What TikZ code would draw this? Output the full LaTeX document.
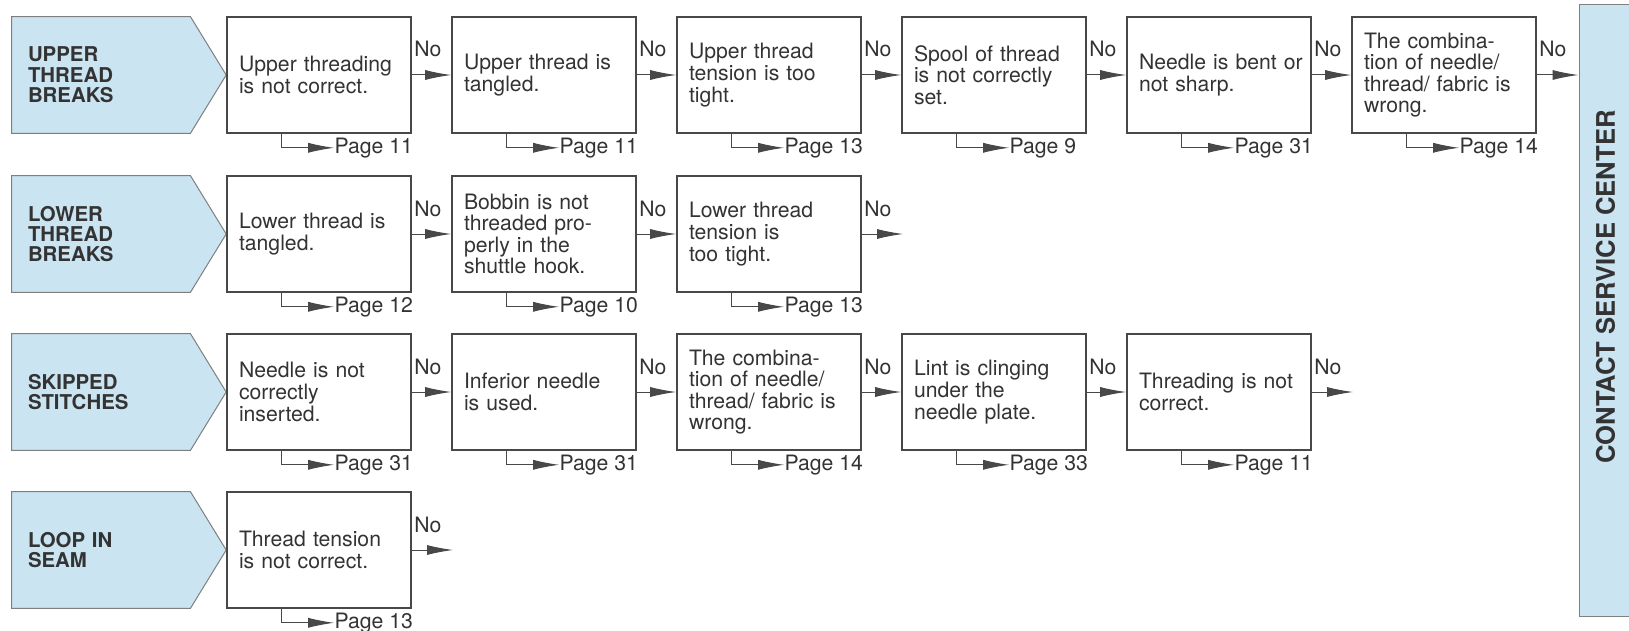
\documentclass[tikz,border=0pt]{standalone}
\usepackage{fontspec}
\setmainfont{TeX Gyre Heros}
\usetikzlibrary{arrows.meta, backgrounds}
\definecolor{catblue}{RGB}{202,228,242}
\definecolor{ink}{RGB}{51,51,51}
\definecolor{rule}{RGB}{72,72,72}

\begin{document}
\begin{tikzpicture}[
			x=0.5pt, y=-0.5pt,
			line cap=round,
			font=\fontsize{10.6}{10.8}\selectfont,
			>={Latex[length=13pt, width=5pt]},
			text=ink,
			box/.style={draw=rule, line width=0.8pt, minimum width=92pt, minimum height=58pt,
				text width=80pt, inner xsep=6pt, inner ysep=0pt, align=left},
			cat/.style={minimum width=89pt, minimum height=58pt, text width=73pt, inner xsep=8pt,
				align=left, font=\fontsize{10.2}{10.2}\selectfont\bfseries},
			catshape/.style={fill=catblue, draw=rule!70, line width=0.5pt},
			csc/.style={rotate=90, fill=catblue, draw=rule!70, line width=0.5pt, inner sep=0pt,
				minimum width=305.5pt, minimum height=26.5pt, font=\fontsize{12.8}{13}\selectfont\bfseries},
			noline/.style={->, draw=rule, line width=0.5pt},
			no/.style={pos=0, anchor=base west, inner sep=1pt, yshift=9pt},
			pgline/.style={->, draw=rule, line width=0.5pt},
			page/.style={anchor=west, inner sep=0pt},
		]
			\useasboundingbox (0,0) rectangle (1629,631);

			% upper thread breaks
			\node[cat] (c1) at (101,75) {UPPER\\THREAD\\BREAKS};
			\node[box] (b11) at (319,75) {Upper threading\\is not correct.};
			\node[box] (b12) at (544,75) {Upper thread is\\tangled.};
			\node[box] (b13) at (769,75) {Upper thread\\tension is too\\tight.};
			\node[box] (b14) at (994,75) {Spool of thread\\is not correctly\\set.};
			\node[box] (b15) at (1219,75) {\mbox{Needle is bent or}\\not sharp.};
			\node[box] (b16) at (1444,75) {The combina-\\tion of needle/\\thread/ fabric is\\wrong.};

			% lower thread breaks
			\node[cat] (c2) at (101,234) {LOWER\\THREAD\\BREAKS};
			\node[box] (b21) at (319,234) {Lower thread is\\tangled.};
			\node[box] (b22) at (544,234) {Bobbin is not\\threaded pro-\\perly in the\\shuttle hook.};
			\node[box] (b23) at (769,234) {Lower thread\\tension is\\too tight.};

			% skipped stitches
			\node[cat] (c3) at (101,392) {SKIPPED\\STITCHES};
			\node[box] (b31) at (319,392) {Needle is not\\correctly\\inserted.};
			\node[box] (b32) at (544,392) {Inferior needle\\is used.};
			\node[box] (b33) at (769,392) {The combina-\\tion of needle/\\thread/ fabric is\\wrong.};
			\node[box] (b34) at (994,392) {Lint is clinging\\under the\\needle plate.};
			\node[box] (b35) at (1219,392) {Threading is not\\correct.};

			% loop in seam
			\node[cat] (c4) at (101,550) {LOOP IN\\SEAM};
			\node[box] (b41) at (319,550) {Thread tension\\is not correct.};

			\node[csc] (csc) at (1605.5,310.5) {\hspace*{23.5pt}CONTACT SERVICE CENTER};

			\begin{scope}[on background layer]
				\draw[catshape] (c1.north west) -- (c1.north east) -- (b11.west) -- (c1.south east) -- (c1.south west) -- cycle;
				\draw[catshape] (c2.north west) -- (c2.north east) -- (b21.west) -- (c2.south east) -- (c2.south west) -- cycle;
				\draw[catshape] (c3.north west) -- (c3.north east) -- (b31.west) -- (c3.south east) -- (c3.south west) -- cycle;
				\draw[catshape] (c4.north west) -- (c4.north east) -- (b41.west) -- (c4.south east) -- (c4.south west) -- cycle;
			\end{scope}

			\coordinate (e2) at (903,234);
			\coordinate (e3) at (1353,392);
			\coordinate (e4) at (453,550);

			\draw[noline] (b11) -- node[no] {No} (b12);
			\draw[noline] (b12) -- node[no] {No} (b13);
			\draw[noline] (b13) -- node[no] {No} (b14);
			\draw[noline] (b14) -- node[no] {No} (b15);
			\draw[noline] (b15) -- node[no] {No} (b16);
			\draw[noline] (b16) -- node[no] {No} (b16 -| csc.north);

			\draw[noline] (b21) -- node[no] {No} (b22);
			\draw[noline] (b22) -- node[no] {No} (b23);
			\draw[noline] (b23) -- node[no] {No} (e2);

			\draw[noline] (b31) -- node[no] {No} (b32);
			\draw[noline] (b32) -- node[no] {No} (b33);
			\draw[noline] (b33) -- node[no] {No} (b34);
			\draw[noline] (b34) -- node[no] {No} (b35);
			\draw[noline] (b35) -- node[no] {No} (e3);

			\draw[noline] (b41) -- node[no] {No} (e4);

			% page references
			\node[page] (p11) at ([shift={(108,14)}]b11.south west) {Page 11};
			\node[page] (p12) at ([shift={(108,14)}]b12.south west) {Page 11};
			\node[page] (p13) at ([shift={(108,14)}]b13.south west) {Page 13};
			\node[page] (p14) at ([shift={(108,14)}]b14.south west) {Page 9};
			\node[page] (p15) at ([shift={(108,14)}]b15.south west) {Page 31};
			\node[page] (p16) at ([shift={(108,14)}]b16.south west) {Page 14};
			\node[page] (p21) at ([shift={(108,14)}]b21.south west) {Page 12};
			\node[page] (p22) at ([shift={(108,14)}]b22.south west) {Page 10};
			\node[page] (p23) at ([shift={(108,14)}]b23.south west) {Page 13};
			\node[page] (p31) at ([shift={(108,14)}]b31.south west) {Page 31};
			\node[page] (p32) at ([shift={(108,14)}]b32.south west) {Page 31};
			\node[page] (p33) at ([shift={(108,14)}]b33.south west) {Page 14};
			\node[page] (p34) at ([shift={(108,14)}]b34.south west) {Page 33};
			\node[page] (p35) at ([shift={(108,14)}]b35.south west) {Page 11};
			\node[page] (p41) at ([shift={(108,14)}]b41.south west) {Page 13};

			\draw[pgline] ([xshift=27.5pt]b11.south west) |- (p11.west);
			\draw[pgline] ([xshift=27.5pt]b12.south west) |- (p12.west);
			\draw[pgline] ([xshift=27.5pt]b13.south west) |- (p13.west);
			\draw[pgline] ([xshift=27.5pt]b14.south west) |- (p14.west);
			\draw[pgline] ([xshift=27.5pt]b15.south west) |- (p15.west);
			\draw[pgline] ([xshift=27.5pt]b16.south west) |- (p16.west);
			\draw[pgline] ([xshift=27.5pt]b21.south west) |- (p21.west);
			\draw[pgline] ([xshift=27.5pt]b22.south west) |- (p22.west);
			\draw[pgline] ([xshift=27.5pt]b23.south west) |- (p23.west);
			\draw[pgline] ([xshift=27.5pt]b31.south west) |- (p31.west);
			\draw[pgline] ([xshift=27.5pt]b32.south west) |- (p32.west);
			\draw[pgline] ([xshift=27.5pt]b33.south west) |- (p33.west);
			\draw[pgline] ([xshift=27.5pt]b34.south west) |- (p34.west);
			\draw[pgline] ([xshift=27.5pt]b35.south west) |- (p35.west);
			\draw[pgline] ([xshift=27.5pt]b41.south west) |- (p41.west);
		\end{tikzpicture}
\end{document}
